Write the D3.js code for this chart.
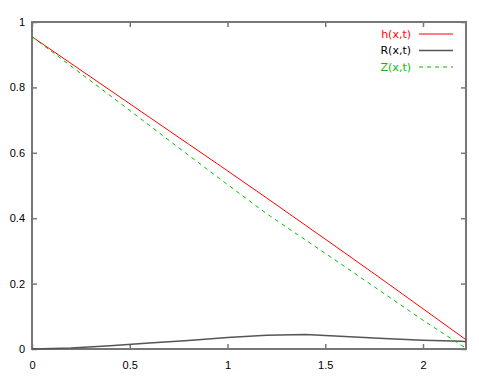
<!DOCTYPE html>
<html>
<head>
<meta charset="utf-8">
<script src="https://cdn.jsdelivr.net/npm/d3@7"></script>
<style>
  body { margin: 0; background: #fff; }
  svg { display: block; font-family: "DejaVu Sans", Verdana, sans-serif; }
</style>
</head>
<body>
<div id="chart"></div>
<script>
// values
var xs  = [0, 0.2, 0.4, 0.6, 0.8, 1.0, 1.2, 1.4, 1.6, 1.8, 2.0, 2.2, 2.22];
var hVals = [0.955, 0.873, 0.791, 0.709, 0.627, 0.545, 0.462, 0.378, 0.294, 0.209, 0.123, 0.037, 0.028];
var zVals = [0.955, 0.865, 0.775, 0.684, 0.593, 0.503, 0.414, 0.333, 0.252, 0.170, 0.088, 0.010, 0.003];
var rVals = [0, 0.003, 0.010, 0.018, 0.026, 0.035, 0.042, 0.044, 0.038, 0.032, 0.027, 0.024, 0.022];

var xTicks = [0, 0.5, 1, 1.5, 2];
var yTicks = [0, 0.2, 0.4, 0.6, 0.8, 1];

var seriesNames = ['h(x,t)', 'R(x,t)', 'Z(x,t)'];
var seriesColors = ['#ff0000', '#555555', '#00c000'];
var seriesDash = [null, null, '4,4'];
var seriesVals = [hVals, rVals, zVals];

var width = 479, height = 377;
var margin = {top: 22, right: 13, bottom: 28, left: 32};
var w = width - margin.left - margin.right,
    h = height - margin.top - margin.bottom;

var svg = d3.select('#chart').append('svg')
    .attr('width', width)
    .attr('height', height);

var g = svg.append('g')
    .attr('transform', 'translate(' + margin.left + ',' + margin.top + ')');

var x = d3.scaleLinear().domain([0, 2.22]).range([0, w]);
var y = d3.scaleLinear().domain([0, 1]).range([h, 0]);

var axisColor = '#777';

// ticks, all pointing inwards, mirrored on top and right
var xAxis = d3.axisBottom(x).tickValues(xTicks).tickSize(-5).tickSizeOuter(0).tickPadding(12)
    .tickFormat(d3.format('~g'));
var yAxis = d3.axisLeft(y).tickValues(yTicks).tickSize(-5).tickSizeOuter(0).tickPadding(7)
    .tickFormat(d3.format('~g'));

g.append('g').attr('class', 'x-Axis')
    .attr('transform', 'translate(0,' + h + ')')
    .call(xAxis);
g.append('g').attr('class', 'y-Axis')
    .call(yAxis);
g.append('g').attr('class', 'x-Top')
    .call(d3.axisTop(x).tickValues(xTicks).tickSize(-5).tickSizeOuter(0).tickFormat(''));
g.append('g').attr('class', 'y-Right')
    .attr('transform', 'translate(' + w + ',0)')
    .call(d3.axisRight(y).tickValues(yTicks).tickSize(-5).tickSizeOuter(0).tickFormat(''));

g.selectAll('.domain').remove();
g.selectAll('.tick line').attr('stroke', axisColor).attr('stroke-width', 1.5);
g.selectAll('.tick text').attr('fill', '#000').style('font-size', '11px');

// border
g.append('rect')
    .attr('x', 0).attr('y', 0)
    .attr('width', w).attr('height', h)
    .attr('fill', 'none')
    .attr('stroke', axisColor)
    .attr('stroke-width', 2);

var line = d3.line()
    .x(function(d) { return x(d[0]); })
    .y(function(d) { return y(d[1]); });

seriesVals.forEach(function(vals, i) {
    var pts = xs.map(function(v, j) { return [v, vals[j]]; });
    g.append('path')
        .attr('d', line(pts))
        .attr('fill', 'none')
        .attr('stroke', seriesColors[i])
        .attr('stroke-width', i === 1 ? 1.5 : 1)
        .attr('stroke-dasharray', seriesDash[i]);
});

// legend
var legend = g.append('g').attr('class', 'legend');
seriesNames.forEach(function(name, i) {
    var ly = 12 + i * 16.5;
    legend.append('text')
        .attr('x', 379).attr('y', ly)
        .attr('dy', '0.35em')
        .attr('text-anchor', 'end')
        .attr('fill', i === 1 ? '#000' : seriesColors[i])
        .style('font-size', '11px')
        .text(name);
    legend.append('line')
        .attr('x1', 387).attr('x2', 421)
        .attr('y1', ly).attr('y2', ly)
        .attr('stroke', seriesColors[i])
        .attr('stroke-width', i === 1 ? 1.5 : 1)
        .attr('stroke-dasharray', seriesDash[i]);
});
</script>
</body>
</html>
